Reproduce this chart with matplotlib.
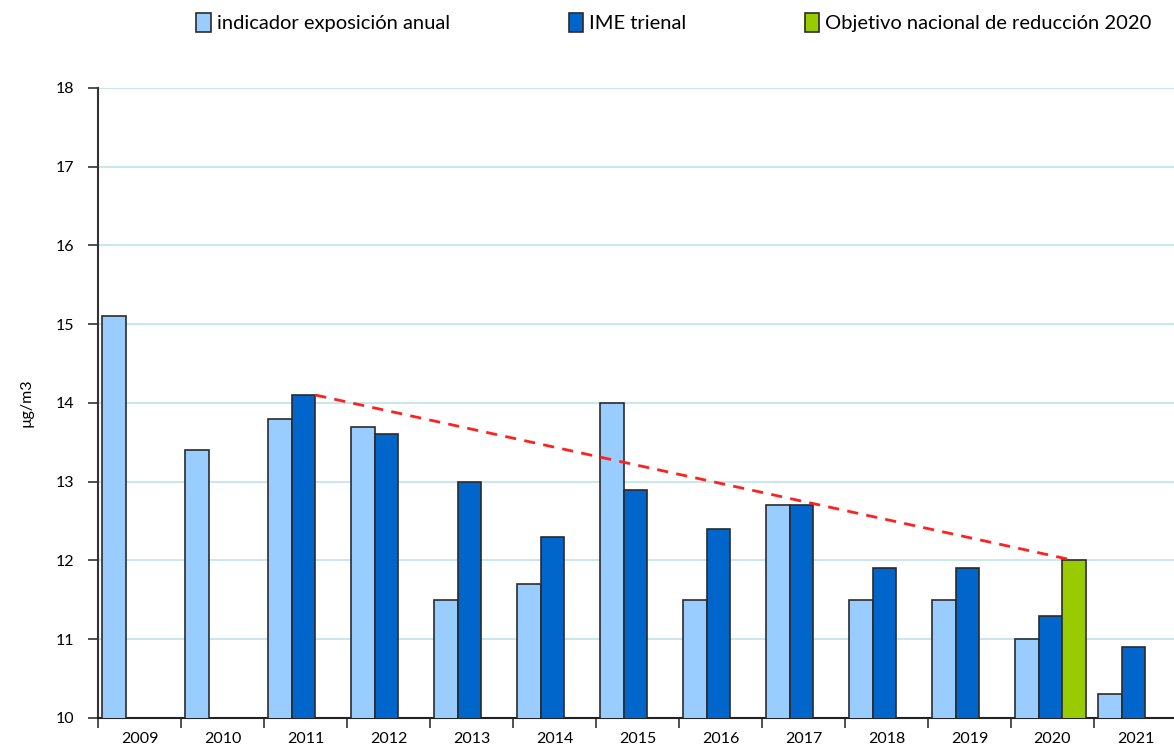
import numpy as np
import matplotlib.pyplot as plt
from matplotlib.patches import Patch

years = ['2009', '2010', '2011', '2012', '2013', '2014', '2015', '2016',
         '2017', '2018', '2019', '2020', '2021']
anual = [15.1, 13.4, 13.8, 13.7, 11.5, 11.7, 14.0, 11.5, 12.7, 11.5, 11.5, 11.0, 10.3]
trienal = [np.nan, np.nan, 14.1, 13.6, 13.0, 12.3, 12.9, 12.4, 12.7, 11.9, 11.9, 11.3, 10.9]
objetivo = [np.nan] * 11 + [12.0, np.nan]

plt.rcParams['font.family'] = ['Lato', 'DejaVu Sans']

c_light = '#99ccff'
c_dark = '#0066cc'
c_green = '#99cc00'
edge = '#2b2b2b'

fig = plt.figure(figsize=(11.74, 7.51), dpi=100)
ax = fig.add_axes([0.0835, 0.044, 0.919, 0.839])

x = np.arange(len(years))
w = 0.285
ax.bar(x - 0.31, anual, w, color=c_light, edgecolor=edge, linewidth=1.2, zorder=3)
ax.bar(x - 0.025, trienal, w, color=c_dark, edgecolor=edge, linewidth=1.2, zorder=3)
ax.bar(x + 0.26, objetivo, w, color=c_green, edgecolor=edge, linewidth=1.2, zorder=3)

# linea objetivo: desde IME 2011 hasta objetivo 2020
ax.plot([2 - 0.025 + w / 2, 11 + 0.26], [trienal[2], objetivo[11]],
        color='#ff2020', linestyle=(0, (4, 3)), linewidth=2, zorder=4)

ax.set_ylim(10, 18)
ax.set_xlim(-0.5, len(years) - 0.5)
ax.set_yticks(range(10, 19))
ax.yaxis.grid(True, color='#bfe3ec', linewidth=1.2, zorder=0)
ax.set_axisbelow(True)

ax.set_xticks(x - 0.5, minor=False)
ax.set_xticklabels([])
ax.set_xticks(x, minor=True)
ax.set_xticklabels(years, minor=True)
ax.tick_params(axis='x', which='major', length=7, width=1.2, color='#333333', direction='out')
ax.tick_params(axis='x', which='minor', length=0, labelsize=11.5, pad=10)
ax.tick_params(axis='y', length=7, width=1.2, color='#333333', labelsize=11.5, pad=10)

for s in ['top', 'right']:
    ax.spines[s].set_visible(False)
ax.spines['left'].set_color('#333333')
ax.spines['left'].set_linewidth(1.5)
ax.spines['bottom'].set_color('#222222')
ax.spines['bottom'].set_linewidth(1.5)

ax.set_ylabel('µg/m3', fontsize=11.5, labelpad=16)

handles = [Patch(facecolor=c, edgecolor=edge, linewidth=1.2) for c in (c_light, c_dark, c_green)]
labels = ['indicador exposición anual', 'IME trienal', 'Objetivo nacional de reducción 2020']
fig.legend(handles, labels, loc='center', bbox_to_anchor=(0.574, 0.97), ncol=3,
           frameon=False, fontsize=14.5, handlelength=0.7, handleheight=1.1,
           handletextpad=0.3, columnspacing=5.9)

fig.savefig('out.png', dpi=100)
